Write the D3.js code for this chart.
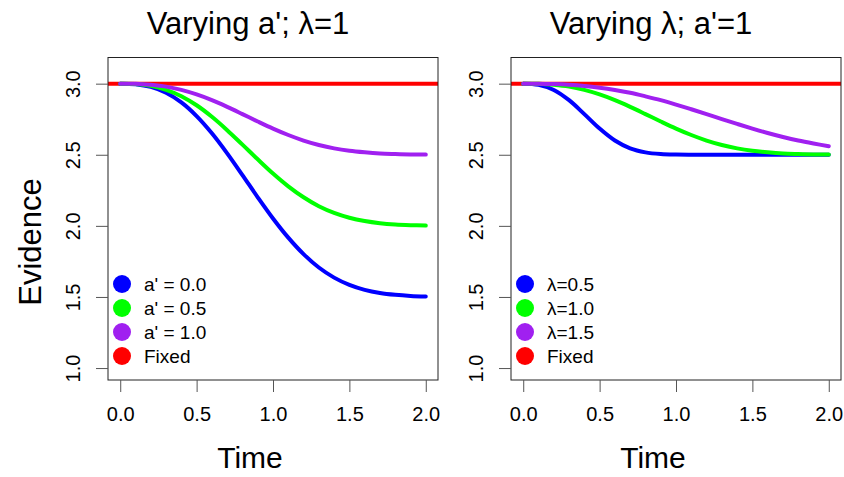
<!DOCTYPE html>
<html>
<head>
<meta charset="utf-8">
<script src="https://cdn.jsdelivr.net/npm/d3@7"></script>
<style>
  body { margin: 0; background: #fff; }
  text { font-family: "Liberation Sans", Arial, sans-serif; fill: #000; }
</style>
</head>
<body>
<script>
const time = [0, 0.1, 0.2, 0.3, 0.4, 0.5, 0.6, 0.7, 0.8, 0.9, 1.0,
              1.1, 1.2, 1.3, 1.4, 1.5, 1.6, 1.7, 1.8, 1.9, 2.0]

// linker paneel: a' varieert, lambda = 1
const aPrime00 = [3.000, 2.996, 2.977, 2.936, 2.868, 2.772, 2.651, 2.510, 2.357, 2.201, 2.052,
                  1.917, 1.801, 1.707, 1.636, 1.585, 1.550, 1.528, 1.515, 1.507, 1.503]
const aPrime05 = [3.000, 2.998, 2.985, 2.957, 2.912, 2.848, 2.767, 2.673, 2.571, 2.468, 2.368,
                  2.278, 2.201, 2.138, 2.091, 2.057, 2.034, 2.019, 2.010, 2.005, 2.002]
const aPrime10 = [3.000, 2.999, 2.992, 2.979, 2.956, 2.924, 2.884, 2.837, 2.786, 2.734, 2.684,
                  2.639, 2.600, 2.569, 2.545, 2.528, 2.517, 2.509, 2.505, 2.502, 2.501]

// rechter paneel: lambda varieert, a' = 1
const lambda05 = [3.000, 2.992, 2.956, 2.884, 2.786, 2.684, 2.600, 2.545, 2.517, 2.505, 2.501,
                  2.500, 2.500, 2.500, 2.500, 2.500, 2.500, 2.500, 2.500, 2.500, 2.500]
const lambda10 = [3.000, 2.999, 2.992, 2.979, 2.956, 2.924, 2.884, 2.837, 2.786, 2.734, 2.684,
                  2.639, 2.600, 2.569, 2.545, 2.528, 2.517, 2.509, 2.505, 2.502, 2.501]
const lambda15 = [3.000, 3.000, 2.997, 2.992, 2.984, 2.972, 2.956, 2.936, 2.911, 2.884, 2.853,
                  2.820, 2.786, 2.751, 2.717, 2.684, 2.653, 2.625, 2.600, 2.579, 2.560]

const fixedLevel = 3
const xTicks = [0, 0.5, 1, 1.5, 2]
const yTicks = [1, 1.5, 2, 2.5, 3]
const titles = ["Varying a'; \u03bb=1", "Varying \u03bb; a'=1"]
const legendLeft = ["a' = 0.0", "a' = 0.5", "a' = 1.0", "Fixed"]
const legendRight = ["\u03bb=0.5", "\u03bb=1.0", "\u03bb=1.5", "Fixed"]
const colors = ["#0000ff", "#00ff00", "#a020f0", "#ff0000"]

const svg = d3.select("body").append("svg")
  .attr("width", 844)
  .attr("height", 477)

const plotTop = 57.5, plotBottom = 380

let y = d3.scaleLinear()
          .domain([0.916, 3.184])
          .range([plotBottom, plotTop])

const panels = [
  {left: 108, right: 438, title: titles[0], legend: legendLeft,
   series: [aPrime00, aPrime05, aPrime10], titleX: 248},
  {left: 511, right: 841, title: titles[1], legend: legendRight,
   series: [lambda05, lambda10, lambda15], titleX: 651}
]

panels.forEach(function(p, pi){
  let x = d3.scaleLinear()
            .domain([-0.08, 2.08])
            .range([p.left, p.right])

  const g = svg.append("g").attr("class", "panel p" + pi)

  // vaste lijn (abline) over de hele breedte
  g.append("line")
   .attr("x1", p.left).attr("x2", p.right)
   .attr("y1", y(fixedLevel)).attr("y2", y(fixedLevel))
   .attr("stroke", colors[3])
   .attr("stroke-width", 4)

  let line = d3.line()
               .x(function(d, i){ return x(time[i]) })
               .y(function(d){ return y(d) })
               .curve(d3.curveCatmullRom)

  p.series.forEach(function(s, si){
    g.append("path")
     .attr("d", line(s))
     .attr("fill", "none")
     .attr("stroke", colors[si])
     .attr("stroke-width", 4)
     .attr("stroke-linecap", "round")
  })

  // kader
  g.append("rect")
   .attr("x", p.left).attr("y", plotTop)
   .attr("width", p.right - p.left).attr("height", plotBottom - plotTop)
   .attr("fill", "none")
   .attr("stroke", "#222")
   .attr("stroke-width", 1)

  // x as
  const xAxis = g.append("g")
    .attr("transform", `translate(0,${plotBottom})`)
    .call(d3.axisBottom(x).tickValues(xTicks).tickSize(12).tickPadding(15)
            .tickFormat(d3.format(".1f")))
  xAxis.select(".domain").remove()
  xAxis.selectAll(".tick line").attr("stroke", "#555")
  xAxis.selectAll(".tick text")
       .attr("font-size", 20)
       .attr("font-family", "Liberation Sans, Arial, sans-serif")
       .attr("fill", "#111")

  // y as met gedraaide labels zoals in R
  const yAxis = g.append("g")
    .attr("transform", `translate(${p.left},0)`)
    .call(d3.axisLeft(y).tickValues(yTicks).tickSize(12)
            .tickFormat(d3.format(".1f")))
  yAxis.select(".domain").remove()
  yAxis.selectAll(".tick line").attr("stroke", "#555")
  yAxis.selectAll(".tick text")
       .attr("transform", "rotate(-90)")
       .attr("x", 0)
       .attr("y", -28)
       .attr("dy", 0)
       .attr("text-anchor", "middle")
       .attr("font-size", 20)
       .attr("font-family", "Liberation Sans, Arial, sans-serif")
       .attr("fill", "#111")

  // titel en aslabel
  g.append("text")
   .attr("x", p.titleX).attr("y", 34)
   .attr("text-anchor", "middle")
   .attr("font-size", 31)
   .text(p.title)

  g.append("text")
   .attr("x", p.titleX + 2).attr("y", 468)
   .attr("text-anchor", "middle")
   .attr("font-size", 30)
   .text("Time")

  // legenda
  const legend = g.append("g")
    .attr("transform", `translate(${p.left + 14},284)`)
  legend.selectAll("circle")
        .data(p.legend)
        .enter().append("circle")
                .attr("cx", 0)
                .attr("cy", function(d, i){ return i * 24 })
                .attr("r", 9)
                .attr("fill", function(d, i){ return colors[i] })
  legend.selectAll("text")
        .data(p.legend)
        .enter().append("text")
                .attr("x", 22)
                .attr("y", function(d, i){ return i * 24 + 7 })
                .attr("font-size", 19)
                .text(function(d){ return d })
})

svg.append("text")
   .attr("transform", "translate(41,242) rotate(-90)")
   .attr("text-anchor", "middle")
   .attr("font-size", 31)
   .text("Evidence")
</script>
</body>
</html>
